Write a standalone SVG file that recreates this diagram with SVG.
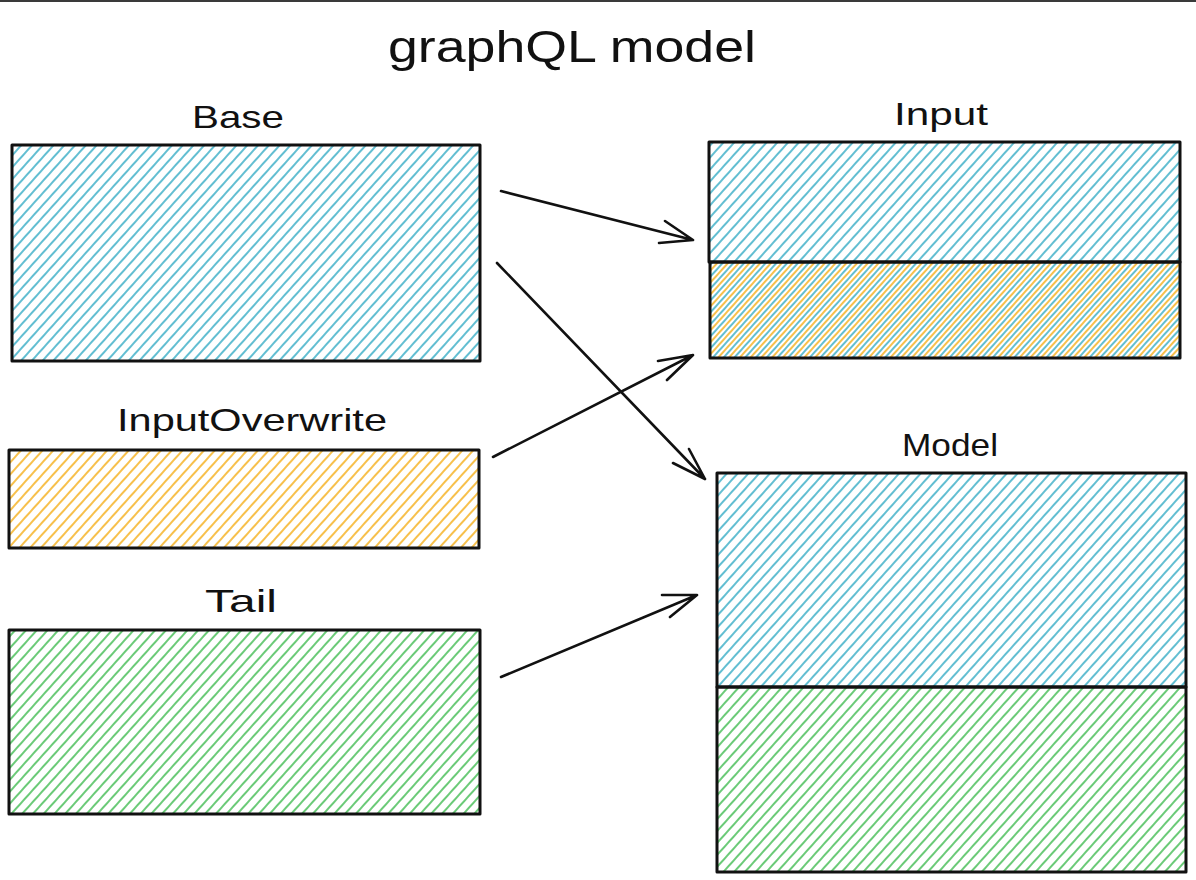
<svg xmlns="http://www.w3.org/2000/svg" width="1196" height="880" viewBox="0 0 1196 880">
<style>
.lbl{font-family:"Liberation Sans","DejaVu Sans",sans-serif;font-size:32px;fill:#111;text-anchor:middle}
.title{font-family:"Liberation Sans","DejaVu Sans",sans-serif;font-size:44px;fill:#111;text-anchor:middle}
.box{fill:none;stroke:#111;stroke-width:3;stroke-linejoin:round}
.arrow{fill:none;stroke:#111;stroke-width:2.6;stroke-linecap:round;stroke-linejoin:round}
</style>
<defs>
<pattern id="hBlue" patternUnits="userSpaceOnUse" width="8" height="10" patternTransform="rotate(42)">
<line x1="1" y1="0" x2="1" y2="10" stroke="#3aaec6" stroke-width="1.6"/>
</pattern>
<pattern id="hOrange" patternUnits="userSpaceOnUse" width="8" height="10" patternTransform="rotate(42) translate(4 0)">
<line x1="1" y1="0" x2="1" y2="10" stroke="#f5b01e" stroke-width="1.6"/>
</pattern>
<pattern id="hGreen" patternUnits="userSpaceOnUse" width="8" height="10" patternTransform="rotate(42)">
<line x1="1" y1="0" x2="1" y2="10" stroke="#45bd55" stroke-width="1.6"/>
</pattern>
</defs>
<rect x="0" y="0" width="1196" height="880" fill="#ffffff"/>
<rect x="0" y="0" width="1196" height="2" fill="#3a3a3a"/>
<text class="title" x="572" y="62" textLength="368" lengthAdjust="spacingAndGlyphs">graphQL model</text>

<g id="base">
<text class="lbl" x="238" y="128" textLength="92" lengthAdjust="spacingAndGlyphs">Base</text>
<rect x="12" y="145" width="468" height="216" fill="url(#hBlue)"/>
<rect class="box" x="12" y="145" width="468" height="216"/>
</g>

<g id="inputoverwrite">
<text class="lbl" x="252" y="431" textLength="270" lengthAdjust="spacingAndGlyphs">InputOverwrite</text>
<rect x="9" y="450" width="470" height="98" fill="url(#hOrange)"/>
<rect class="box" x="9" y="450" width="470" height="98"/>
</g>

<g id="tail">
<text class="lbl" x="241" y="612" textLength="72" lengthAdjust="spacingAndGlyphs">Tail</text>
<rect x="9" y="630" width="471" height="184" fill="url(#hGreen)"/>
<rect class="box" x="9" y="630" width="471" height="184"/>
</g>

<g id="input">
<text class="lbl" x="941" y="125" textLength="94" lengthAdjust="spacingAndGlyphs">Input</text>
<rect x="709" y="142" width="471" height="216" fill="url(#hBlue)"/>
<rect x="709" y="262" width="471" height="96" fill="url(#hOrange)"/>
<rect class="box" x="709" y="142" width="471" height="120"/>
<rect class="box" x="710" y="262" width="470" height="96" stroke-width="3.4"/>
</g>

<g id="model">
<text class="lbl" x="950" y="456" textLength="96" lengthAdjust="spacingAndGlyphs">Model</text>
<rect x="717" y="473" width="469" height="214" fill="url(#hBlue)"/>
<rect x="717" y="687" width="469" height="185" fill="url(#hGreen)"/>
<rect class="box" x="717" y="473" width="469" height="214"/>
<rect class="box" x="717" y="687" width="469" height="185" stroke-width="3.4"/>
</g>

<g id="connectors">
<path class="arrow" d="M501 191 L693 240 M665 221 L693 240 L659 243"/>
<path class="arrow" d="M497 263 L705 479 M689 449 L705 479 L673 463"/>
<path class="arrow" d="M493 457 L693 355 M658 361 L693 355 L667 380"/>
<path class="arrow" d="M501 677 L697 595 M662 595 L697 595 L670 617"/>
</g>
</svg>
